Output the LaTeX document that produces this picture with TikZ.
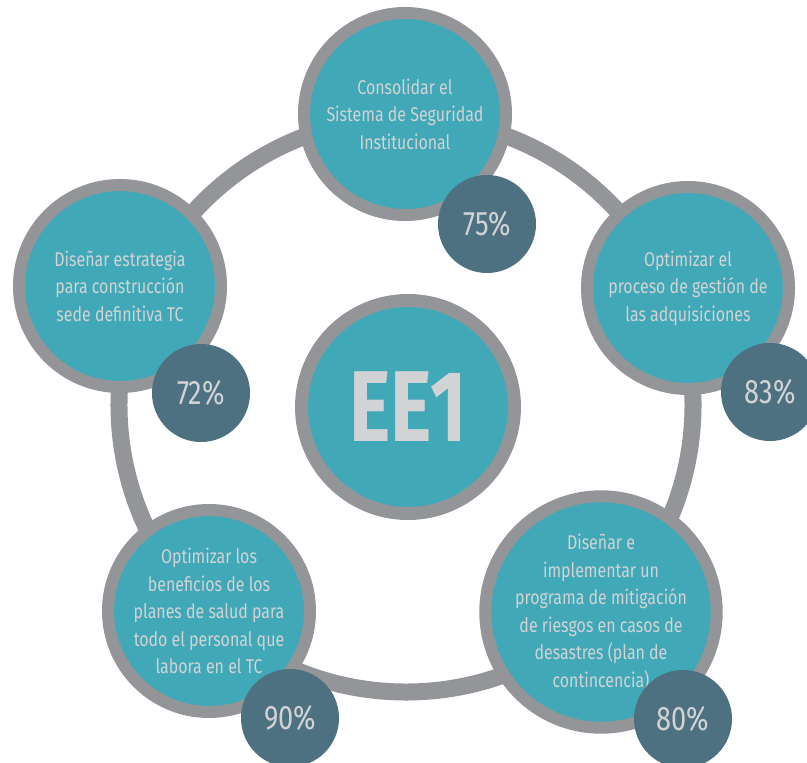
\documentclass[tikz,border=0pt]{standalone}
\usepackage{fontspec}
\setmainfont{Fira Sans}[FakeStretch=0.8]
\newfontfamily\eefont{Fira Sans}[FakeStretch=0.78]
\definecolor{MyTeal}{HTML}{41A8B8}
\definecolor{MyGray}{HTML}{939598}
\definecolor{MyDark}{HTML}{4E7181}
\definecolor{MyText}{HTML}{D1D3D4}
\tikzset{
  ring/.style={draw=MyGray, line width=0.51cm},
  goal/.style={circle, draw=MyGray, line width=0.36cm, fill=MyTeal, minimum size=6.06cm,
    inner sep=0pt, align=center, text=MyText, font=\fontsize{17}{23.5}\selectfont},
  score/.style={circle, fill=MyDark, minimum size=2.94cm, inner sep=0pt,
    text=MyText, font=\fontsize{29}{30}\selectfont},
}

\begin{document}
\begin{tikzpicture}[x=0.03cm,y=-0.03cm]
\useasboundingbox (0,0) rectangle (807,763);

            % big ring behind the goals
            \coordinate (hub) at (406,405);
            \draw[ring] (hub) circle (8.61cm);

            % centre
            \node[goal, minimum size=6.39cm, line width=0.39cm] (ee) at (408,407)
                {\eefont\bfseries\fontsize{86}{86}\selectfont EE1};

            % goals
            \node[goal] (seguridad) at (405,114)
                {Consolidar el\\Sistema de Seguridad\\Institucional};
            \node[goal] (adquisiciones) at (688,288)
                {Optimizar el\\proceso de gestión de\\las adquisiciones};
            \node[goal] (riesgos) at (601,612)
                {Diseñar e\\implementar un\\programa de mitigación\\de riesgos en casos de\\desastres (plan de\\contincencia)};
            \node[goal] (salud) at (209,611)
                {Optimizar los\\beneficios de los\\planes de salud para\\todo el personal que\\labora en el TC};
            \node[goal] (sede) at (120,286)
                {Diseñar estrategia\\para construcción\\sede definitiva TC};

            % percentages
            \node[score] (p75) at (487,224) {75\%};
            \node[score] (p83) at (770,392) {83\%};
            \node[score] (p80) at (683,719) {80\%};
            \node[score] (p90) at (290,718) {90\%};
            \node[score] (p72) at (201,393) {72\%};
\end{tikzpicture}
\end{document}
